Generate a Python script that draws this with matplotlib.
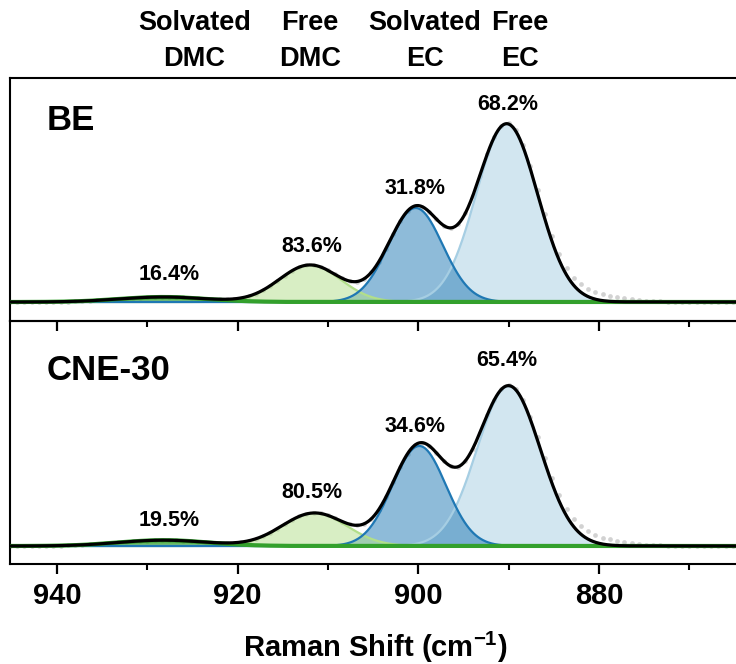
import numpy as np
import matplotlib
matplotlib.use("Agg")
import matplotlib.pyplot as plt
from matplotlib.transforms import blended_transform_factory

plt.rcParams['font.family'] = ['Liberation Sans', 'DejaVu Sans']
plt.rcParams['font.weight'] = 'bold'
plt.rcParams['mathtext.fontset'] = 'custom'
plt.rcParams['mathtext.rm'] = 'Liberation Sans:bold'
plt.rcParams['mathtext.bf'] = 'Liberation Sans:bold'

# Peak order: solvated DMC, free DMC, solvated EC, free EC
peak_names = ["Solvated\nDMC", "Free\nDMC", "Solvated\nEC", "Free\nEC"]
samples = ["BE", "CNE-30"]

be_centers = [928.2, 912.0, 900.3, 890.2]
be_heights = [5.0, 37.0, 94.0, 178.0]
be_sigmas = [4.9, 3.4, 3.0, 3.4]
be_percent = ["16.4%", "83.6%", "31.8%", "68.2%"]

cne_centers = [928.2, 911.5, 899.9, 890.0]
cne_heights = [5.8, 33.0, 100.0, 160.0]
cne_sigmas = [5.0, 3.6, 2.96, 3.5]
cne_percent = ["19.5%", "80.5%", "34.6%", "65.4%"]

# Low-wavenumber shoulder seen in the measured spectrum but not in the fit
tail_center = 882.0
tail_height = 8.0
tail_sigma = 3.8

# Label anchor positions (wavenumber, intensity)
be_label_x = [927.6, 911.8, 900.4, 890.1]
be_label_y = [27, 55, 114, 197]
cne_label_x = [927.6, 911.8, 900.4, 890.2]
cne_label_y = [26, 54, 119, 186]
header_x = [924.8, 912.0, 899.3, 888.8]

line_colors = ["#33a02c", "#b2df8a", "#1f78b4", "#a6cee3"]
fill_alpha = [0.75, 0.5, 0.5, 0.5]

x_fit = np.arange(864.0, 945.6, 0.05)
x_meas = np.arange(864.4, 945.6, 0.8)


def gauss(x, c, h, s):
    return h * np.exp(-(x - c) ** 2 / (2 * s ** 2))


fig = plt.figure(figsize=(7.36, 6.64), dpi=100)
left, right_edge = 10 / 736, 740 / 736
ax1 = fig.add_axes([left, 1 - 321 / 664, right_edge - left, 243 / 664])
ax2 = fig.add_axes([left, 1 - 564 / 664, right_edge - left, 243 / 664])
ax2.patch.set_alpha(0)

panels = [
    (ax1, be_centers, be_heights, be_sigmas, be_percent, be_label_x, be_label_y, "BE", (-19, 224), 0.827),
    (ax2, cne_centers, cne_heights, cne_sigmas, cne_percent, cne_label_x, cne_label_y, "CNE-30", (-18, 225), 0.798),
]

for ax, cs, hs, ss, pct, lx, ly, name, ylim, ny in panels:
    comps = [gauss(x_fit, c, h, s) for c, h, s in zip(cs, hs, ss)]
    total = np.sum(comps, axis=0)
    meas = sum(gauss(x_meas, c, h, s) for c, h, s in zip(cs, hs, ss)) \
        + gauss(x_meas, tail_center, tail_height, tail_sigma)

    ax.plot(x_meas, meas, 'o', color="#d2d2d2", markersize=3.4,
            markeredgewidth=0, zorder=1)
    for i in [3, 2, 1, 0]:
        ax.fill_between(x_fit, 0, comps[i], color=line_colors[i],
                        alpha=fill_alpha[i], linewidth=0, zorder=2)
    for i in [3, 1, 2]:
        ax.plot(x_fit, comps[i], color=line_colors[i], lw=1.6, zorder=3)
    ax.plot(x_fit, comps[0], color=line_colors[0], lw=3.0, zorder=3.5)
    ax.plot(x_fit, total, color="black", lw=2.3, zorder=4)

    for t, xx, yy in zip(pct, lx, ly):
        ax.text(xx, yy, t, ha="center", va="center", fontsize=15.5,
                fontweight="bold", zorder=5)
    ax.text(0.05, ny, name, transform=ax.transAxes, ha="left", va="center",
            fontsize=25, fontweight="bold")

    ax.set_xlim(945.2, 864.4)
    ax.set_ylim(*ylim)
    ax.set_yticks([])
    ax.spines["right"].set_visible(False)
    for sp in ["left", "top", "bottom"]:
        ax.spines[sp].set_linewidth(1.5)
    ax.set_xticks([940, 920, 900, 880])
    ax.set_xticks([930, 910, 890, 870], minor=True)
    ax.tick_params(axis="x", which="major", direction="out", length=7,
                   width=1.6, labelsize=21, pad=6)
    ax.tick_params(axis="x", which="minor", direction="out", length=4,
                   width=1.5)

ax1.tick_params(axis="x", which="both", labelbottom=False)
for lab in ax2.get_xticklabels():
    lab.set_fontweight("bold")
ax2.set_xlabel("Raman Shift (cm$^{\\mathrm{-1}}$)", fontsize=21,
               fontweight="bold", labelpad=14)

trans = blended_transform_factory(ax1.transData, ax1.transAxes)
for xx, name in zip(header_x, peak_names):
    top, bottom = name.split("\n")
    ax1.text(xx, 1.226, top, transform=trans, ha="center", va="center",
             fontsize=19.5, fontweight="bold")
    ax1.text(xx, 1.078, bottom, transform=trans, ha="center", va="center",
             fontsize=19.5, fontweight="bold")

fig.savefig("out.png", dpi=100)
